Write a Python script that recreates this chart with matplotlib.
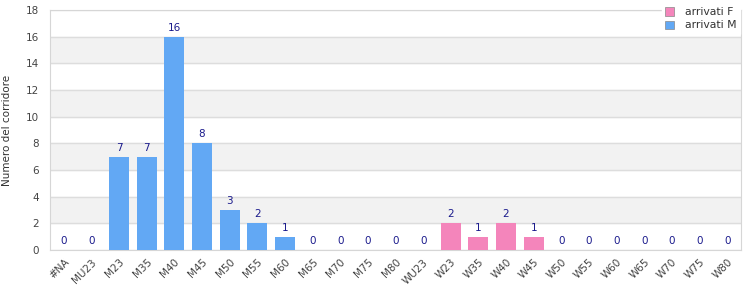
import matplotlib
matplotlib.use("Agg")
import matplotlib.pyplot as plt
from matplotlib.patches import Patch
import numpy as np

categories = ["#NA", "MU23", "M23", "M35", "M40", "M45", "M50", "M55", "M60", "M65",
              "M70", "M75", "M80", "WU23", "W23", "W35", "W40", "W45", "W50", "W55",
              "W60", "W65", "W70", "W75", "W80"]
arrivati_M = [0, 0, 7, 7, 16, 8, 3, 2, 1, 0, 0, 0, 0, 0, 0, 0, 0, 0, 0, 0, 0, 0, 0, 0, 0]
arrivati_F = [0, 0, 0, 0, 0, 0, 0, 0, 0, 0, 0, 0, 0, 0, 2, 1, 2, 1, 0, 0, 0, 0, 0, 0, 0]

col_M = "#62a8f4"
col_F = "#f485bb"

plt.rcParams['font.family'] = ['DejaVu Sans']
fig = plt.figure(figsize=(7.5, 3.0), dpi=100)
ax = fig.add_axes([50/750, 50/300, 691/750, 240/300])

x = np.arange(len(categories))
M = np.array(arrivati_M)
F = np.array(arrivati_F)
ax.bar(x, M, width=0.72, color=col_M, zorder=3)
ax.bar(x, F, bottom=M, width=0.72, color=col_F, zorder=3)

tot = M + F
for xi, t in zip(x, tot):
    ax.text(xi, t + 0.3, str(int(t)), ha="center", va="bottom", fontsize=7.5,
            color="#1a1a8c", zorder=4)

ax.set_xlim(-0.5, len(categories) - 0.5)
ax.set_ylim(0, 18)
ax.set_yticks(range(0, 19, 2))
for lo in (2, 6, 10, 14):
    ax.axhspan(lo, lo + 2, color="#f2f2f2", zorder=0)
ax.grid(axis="y", color="#dddddd", linewidth=1, zorder=1)
ax.set_axisbelow(True)

ax.set_xticks(x)
ax.set_xticklabels(categories, rotation=45, ha="right", rotation_mode="anchor",
                   fontsize=7.5, color="#444444")
ax.tick_params(axis="y", labelsize=7.5, colors="#444444", length=0, pad=8)
ax.tick_params(axis="x", length=0, pad=5)
for s in ax.spines.values():
    s.set_color("#d6d6d6")
ax.set_ylabel("Numero del corridore", fontsize=7.5, color="#333333")
ax.yaxis.set_label_coords(-38/691, 0.5)

handles = [Patch(facecolor=col_F, edgecolor="#888888", linewidth=0.5, label="arrivati F"),
           Patch(facecolor=col_M, edgecolor="#888888", linewidth=0.5, label="arrivati M")]
leg = fig.legend(handles=handles, loc="upper right", bbox_to_anchor=(745/750, 1.005),
                 fontsize=7.8, frameon=True, fancybox=False, framealpha=1,
                 edgecolor="white", handlelength=0.8, handleheight=0.8,
                 labelspacing=0.3, borderpad=0.3, handletextpad=1.0)
for t in leg.get_texts():
    t.set_color("#333333")

fig.savefig("out.png", dpi=100)
